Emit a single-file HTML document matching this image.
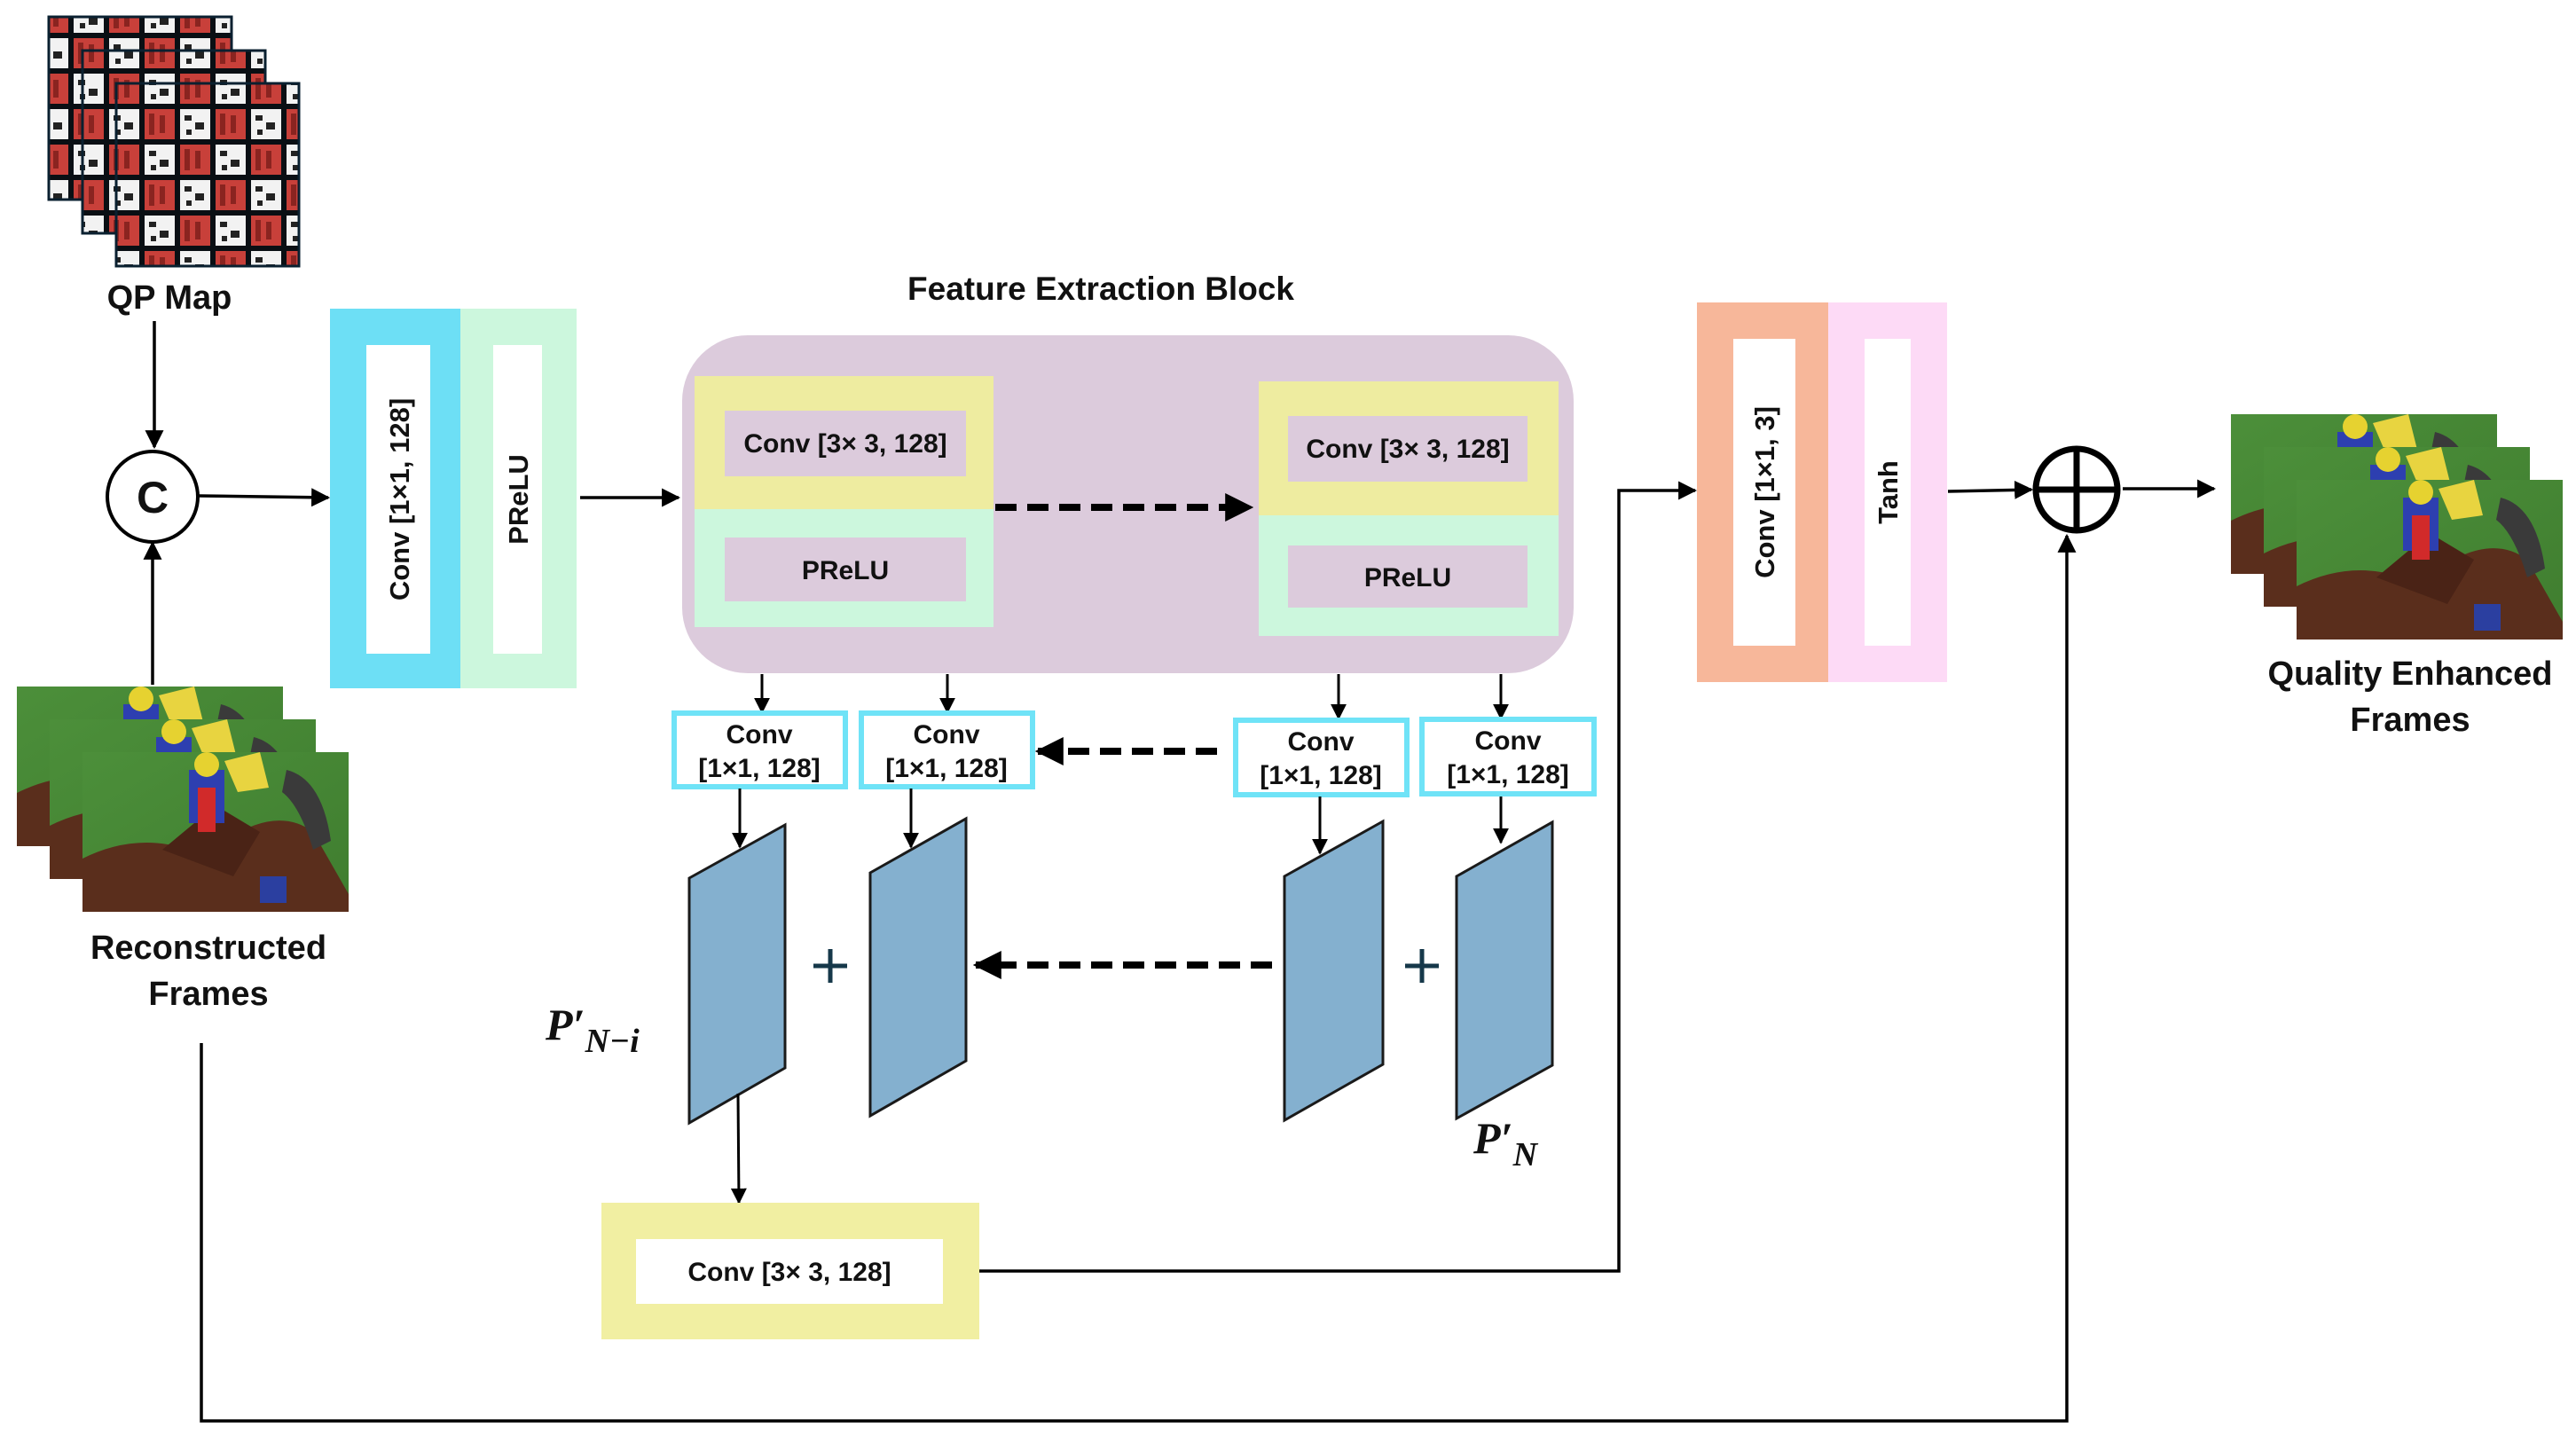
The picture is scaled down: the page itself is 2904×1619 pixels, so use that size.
<!DOCTYPE html>
<html><head><meta charset="utf-8"><style>
html,body{margin:0;padding:0;background:#fff}
svg{display:block}
text{font-family:"Liberation Sans",sans-serif;font-weight:bold;fill:#111}
</style></head><body>
<svg width="2904" height="1619" viewBox="0 0 2904 1619" xmlns="http://www.w3.org/2000/svg">
<defs>
<marker id="a" viewBox="0 0 10 10" refX="9" refY="5" markerWidth="6" markerHeight="6" orient="auto"><path d="M0,0 L10,5 L0,10 z" fill="#000"/></marker>
<marker id="a2" viewBox="0 0 10 10" refX="9" refY="5" markerWidth="4" markerHeight="4" orient="auto"><path d="M0,0 L10,5 L0,10 z" fill="#000"/></marker>
<pattern id="qp" width="80" height="80" patternUnits="userSpaceOnUse">
<rect width="80" height="80" fill="#0a0f14"/>
<rect x="3" y="3" width="34" height="34" fill="#f2f2f2"/><rect x="43" y="43" width="34" height="34" fill="#f2f2f2"/>
<rect x="43" y="3" width="34" height="34" fill="#c8403a"/><rect x="3" y="43" width="34" height="34" fill="#c8403a"/>
<path d="M8 10h8v6h-8zM20 20h10v8h-10zM10 26h6v6h-6zM48 50h8v6h-8zM60 58h10v8h-10zM50 66h6v6h-6z" fill="#222"/>
<path d="M48 8h6v24h-6zM60 10h6v20h-6zM8 48h6v24h-6zM20 50h6v20h-6z" fill="#8a2420"/>
</pattern>
<linearGradient id="grass" x1="0" y1="0" x2="1" y2="1"><stop offset="0" stop-color="#4c8f3a"/><stop offset="1" stop-color="#3f7d2f"/></linearGradient>
<g id="horse">
<rect width="300" height="180" fill="url(#grass)"/>
<path d="M0 120 Q60 90 120 110 L160 100 Q220 60 260 90 L300 160 L300 180 L0 180z" fill="#5a2e1c"/>
<path d="M90 110 L150 60 L200 90 L170 140z" fill="#4a2316"/>
<rect x="120" y="20" width="40" height="60" fill="#2d3fb0"/>
<rect x="130" y="40" width="20" height="50" fill="#d12a2a"/>
<circle cx="140" cy="14" r="14" fill="#e6d230"/>
<path d="M160 10 L200 0 L210 40 L175 45z" fill="#e8d440"/>
<path d="M230 20 Q270 30 280 100 L260 110 Q245 60 225 45z" fill="#3a3a3a"/>
<rect x="200" y="140" width="30" height="30" fill="#2b3fa0"/>
</g>
</defs>

<rect x="55" y="19" width="206" height="206" fill="url(#qp)" stroke="#0a2030" stroke-width="3"/>
<rect x="93" y="57" width="206" height="206" fill="url(#qp)" stroke="#0a2030" stroke-width="3"/>
<rect x="131" y="94" width="206" height="206" fill="url(#qp)" stroke="#0a2030" stroke-width="3"/>
<text x="191" y="348" font-size="38" text-anchor="middle">QP Map</text>

<line x1="174" y1="362" x2="174" y2="504" stroke="#000" stroke-width="3.5" marker-end="url(#a)"/>
<circle cx="172" cy="560" r="51" fill="#fff" stroke="#000" stroke-width="4"/>
<text x="172" y="578" font-size="50" text-anchor="middle">C</text>
<line x1="224" y1="559" x2="370" y2="561" stroke="#000" stroke-width="3.5" marker-end="url(#a)"/>
<line x1="172" y1="772" x2="172" y2="612" stroke="#000" stroke-width="3.5" marker-end="url(#a)"/>

<use href="#horse" x="19" y="774"/>
<use href="#horse" x="56" y="811"/>
<use href="#horse" x="93" y="848"/>
<text x="235" y="1081" font-size="38" text-anchor="middle">Reconstructed</text>
<text x="235" y="1133" font-size="38" text-anchor="middle">Frames</text>

<rect x="372" y="348" width="147" height="428" fill="#6ddff5"/>
<rect x="413" y="389" width="72" height="348" fill="#fff"/>
<rect x="519" y="348" width="131" height="428" fill="#ccf7dd"/>
<rect x="556" y="389" width="55" height="348" fill="#fff"/>
<text transform="translate(461,563) rotate(-90)" font-size="31" text-anchor="middle">Conv [1×1, 128]</text>
<text transform="translate(595,563) rotate(-90)" font-size="31" text-anchor="middle">PReLU</text>
<line x1="654" y1="561" x2="765" y2="561" stroke="#000" stroke-width="3.5" marker-end="url(#a)"/>

<text x="1241" y="338" font-size="37" text-anchor="middle">Feature Extraction Block</text>
<rect x="769" y="378" width="1005" height="381" rx="74" fill="#dccbdc"/>
<rect x="783" y="424" width="337" height="150" fill="#eeeca0"/>
<rect x="817" y="463" width="272" height="74" fill="#dccbdc"/>
<rect x="783" y="574" width="337" height="133" fill="#ccf7dd"/>
<rect x="817" y="606" width="272" height="72" fill="#dccbdc"/>
<text x="953" y="510" font-size="30" text-anchor="middle">Conv [3× 3, 128]</text>
<text x="953" y="653" font-size="30" text-anchor="middle">PReLU</text>
<rect x="1419" y="430" width="338" height="151" fill="#eeeca0"/>
<rect x="1452" y="469" width="270" height="74" fill="#dccbdc"/>
<rect x="1419" y="581" width="338" height="136" fill="#ccf7dd"/>
<rect x="1452" y="615" width="270" height="70" fill="#dccbdc"/>
<text x="1587" y="516" font-size="30" text-anchor="middle">Conv [3× 3, 128]</text>
<text x="1587" y="661" font-size="30" text-anchor="middle">PReLU</text>
<line x1="1122" y1="572" x2="1410" y2="572" stroke="#000" stroke-width="8" stroke-dasharray="24,12" marker-end="url(#a2)"/>

<g stroke="#000" stroke-width="3" marker-end="url(#a)">
<line x1="859" y1="760" x2="859" y2="803"/>
<line x1="1068" y1="760" x2="1068" y2="803"/>
<line x1="1509" y1="760" x2="1509" y2="810"/>
<line x1="1692" y1="760" x2="1692" y2="810"/>
</g>

<g fill="#fff" stroke="#6fe3f7" stroke-width="6">
<rect x="760" y="804" width="193" height="83"/>
<rect x="971" y="804" width="193" height="83"/>
<rect x="1393" y="812" width="193" height="84"/>
<rect x="1603" y="811" width="194" height="84"/>
</g>
<g font-size="30" text-anchor="middle">
<text x="856" y="838">Conv</text><text x="856" y="876">[1×1, 128]</text>
<text x="1067" y="838">Conv</text><text x="1067" y="876">[1×1, 128]</text>
<text x="1489" y="846">Conv</text><text x="1489" y="884">[1×1, 128]</text>
<text x="1700" y="845">Conv</text><text x="1700" y="883">[1×1, 128]</text>
</g>
<line x1="1372" y1="847" x2="1170" y2="847" stroke="#000" stroke-width="8" stroke-dasharray="24,12" marker-end="url(#a2)"/>

<g stroke="#000" stroke-width="3" marker-end="url(#a)">
<line x1="834" y1="889" x2="834" y2="955"/>
<line x1="1027" y1="889" x2="1027" y2="955"/>
<line x1="1488" y1="898" x2="1488" y2="962"/>
<line x1="1692" y1="898" x2="1692" y2="950"/>
</g>

<g fill="#84b0cf" stroke="#1a1a1a" stroke-width="3">
<polygon points="777,990 885,930 885,1204 777,1266"/>
<polygon points="981,984 1089,923 1089,1196 981,1258"/>
<polygon points="1448,988 1559,926 1559,1200 1448,1263"/>
<polygon points="1642,988 1750,927 1750,1201 1642,1261"/>
</g>
<g stroke="#16384a" stroke-width="5">
<line x1="936" y1="1070" x2="936" y2="1108"/><line x1="917" y1="1089" x2="955" y2="1089"/>
<line x1="1603" y1="1070" x2="1603" y2="1108"/><line x1="1584" y1="1089" x2="1622" y2="1089"/>
</g>
<line x1="1434" y1="1088" x2="1100" y2="1088" stroke="#000" stroke-width="8" stroke-dasharray="24,12" marker-end="url(#a2)"/>

<text x="615" y="1172" font-size="50" style="font-family:'Liberation Serif',serif;font-style:italic">P′<tspan font-size="38" dy="14">N−i</tspan></text>
<text x="1661" y="1300" font-size="50" style="font-family:'Liberation Serif',serif;font-style:italic">P′<tspan font-size="38" dy="14">N</tspan></text>

<line x1="832" y1="1233" x2="833" y2="1356" stroke="#000" stroke-width="3" marker-end="url(#a)"/>

<rect x="678" y="1356" width="426" height="154" fill="#f1efa2"/>
<rect x="717" y="1397" width="346" height="73" fill="#fff"/>
<text x="890" y="1444" font-size="30" text-anchor="middle">Conv [3× 3, 128]</text>
<polyline points="1104,1433 1825,1433 1825,553 1911,553" fill="none" stroke="#000" stroke-width="3.5" marker-end="url(#a)"/>

<rect x="1913" y="341" width="148" height="428" fill="#f7b79a"/>
<rect x="1954" y="382" width="70" height="346" fill="#fff"/>
<rect x="2061" y="341" width="134" height="428" fill="#fddaf6"/>
<rect x="2102" y="382" width="52" height="346" fill="#fff"/>
<text transform="translate(2000,555) rotate(-90)" font-size="31" text-anchor="middle">Conv [1×1, 3]</text>
<text transform="translate(2139,555) rotate(-90)" font-size="31" text-anchor="middle">Tanh</text>
<line x1="2196" y1="554" x2="2290" y2="552" stroke="#000" stroke-width="3.5" marker-end="url(#a)"/>

<circle cx="2341" cy="552" r="46" fill="#fff" stroke="#000" stroke-width="7"/>
<line x1="2295" y1="552" x2="2387" y2="552" stroke="#000" stroke-width="7"/>
<line x1="2341" y1="506" x2="2341" y2="598" stroke="#000" stroke-width="7"/>
<line x1="2393" y1="551" x2="2496" y2="551" stroke="#000" stroke-width="3.5" marker-end="url(#a)"/>

<polyline points="227,1176 227,1602 2330,1602 2330,604" fill="none" stroke="#000" stroke-width="3.5" marker-end="url(#a)"/>

<use href="#horse" x="2515" y="467"/>
<use href="#horse" x="2552" y="504"/>
<use href="#horse" x="2589" y="541"/>
<text x="2717" y="772" font-size="38" text-anchor="middle">Quality Enhanced</text>
<text x="2717" y="824" font-size="38" text-anchor="middle">Frames</text>
</svg>
</body></html>
